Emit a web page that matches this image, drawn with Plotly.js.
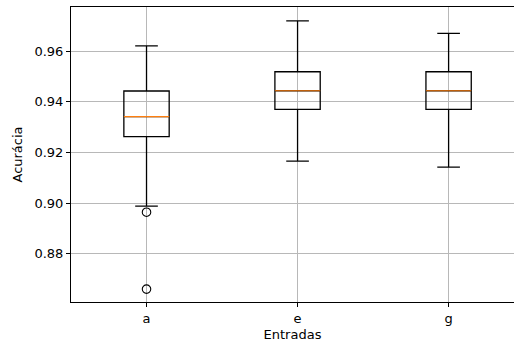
<!DOCTYPE html>
<html>
<head>
<meta charset="utf-8">
<script src="https://cdn.plot.ly/plotly-3.0.1.min.js"></script>
<style>html,body{margin:0;padding:0;background:#fff;}#chart{width:514px;height:343px;}</style>
</head>
<body>
<div id="chart"></div>
<script>
// Data
const categories = ["a", "e", "g"];
const positions = [1, 2, 3];
const q1 = [0.9263, 0.9370, 0.9370];
const median = [0.9342, 0.9444, 0.9444];
const q3 = [0.9443, 0.9519, 0.9519];
const lowerWhisker = [0.8988, 0.9166, 0.9142];
const upperWhisker = [0.9621, 0.9720, 0.9671];
const outlierCategory = [1, 1];
const outlierValues = [0.8964, 0.8660];

const boxWidth = 0.30;
const traces = [];
traces.push({
  type: 'box',
  x: positions,
  q1: q1, median: median, q3: q3,
  lowerfence: lowerWhisker, upperfence: upperWhisker,
  width: boxWidth,
  whiskerwidth: 0.5,
  fillcolor: 'rgba(0,0,0,0)',
  line: {color: '#000000', width: 1.3},
  boxpoints: false,
  hoverinfo: 'skip',
  showlegend: false
});
// orange medians
const mx = [], my = [];
positions.forEach((p, i) => {
  mx.push(p - boxWidth / 2, p + boxWidth / 2, null);
  my.push(median[i], median[i], null);
});
traces.push({
  type: 'scatter', mode: 'lines', x: mx, y: my,
  line: {color: '#ff7f0e', width: 1.2},
  hoverinfo: 'skip', showlegend: false
});
traces.push({
  type: 'scatter', mode: 'markers', x: outlierCategory, y: outlierValues,
  marker: {symbol: 'circle-open', size: 8.5, color: '#000000', line: {width: 1.1, color: '#000000'}},
  hoverinfo: 'skip', showlegend: false
});

const layout = {
  width: 514, height: 343,
  margin: {l: 71, r: 0, t: 7, b: 41},
  paper_bgcolor: '#ffffff', plot_bgcolor: '#ffffff',
  font: {family: 'DejaVu Sans', size: 13, color: '#000000'},
  showlegend: false,
  xaxis: {
    range: [0.5, 3.433],
    tickvals: positions, ticktext: categories,
    showgrid: true, gridcolor: '#b8b8b8', gridwidth: 1,
    zeroline: false,
    showline: true, linecolor: '#000000', linewidth: 1, mirror: true,
    ticks: 'outside', ticklen: 4, tickcolor: '#000000', tickwidth: 1,
    tickfont: {size: 13},
    title: {text: 'Entradas', font: {size: 13}, standoff: 5},
    automargin: false
  },
  yaxis: {
    range: [0.8609, 0.9775],
    tickvals: [0.88, 0.90, 0.92, 0.94, 0.96],
    ticktext: ['0.88', '0.90', '0.92', '0.94', '0.96'],
    showgrid: true, gridcolor: '#b8b8b8', gridwidth: 1,
    zeroline: false,
    showline: true, linecolor: '#000000', linewidth: 1, mirror: false,
    ticks: 'outside', ticklen: 4, tickcolor: '#000000', tickwidth: 1,
    tickfont: {size: 13},
    title: {text: 'Acurácia', font: {size: 13}, standoff: 8},
    automargin: false
  }
};
Plotly.newPlot('chart', traces, layout, {displayModeBar: false, staticPlot: true});
</script>
</body>
</html>
